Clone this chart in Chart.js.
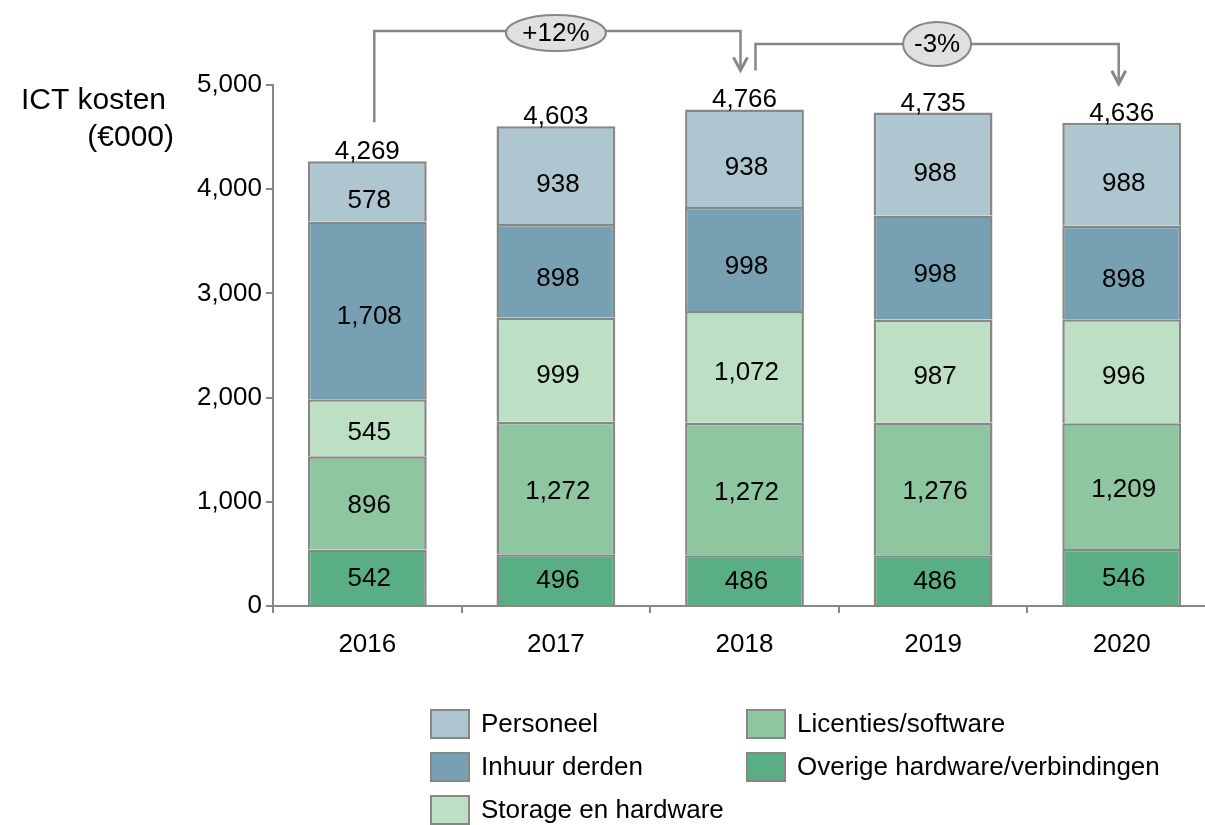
<!DOCTYPE html>
<html>
<head>
<meta charset="utf-8">
<script src="https://cdn.jsdelivr.net/npm/chart.js@4.4.1/dist/chart.umd.min.js"></script>
<style>
    html, body { margin: 0; padding: 0; background: #fff; overflow: hidden; }
    canvas { display: block; }
</style>
</head>
<body>
<canvas id="ictChart" width="1220" height="825"></canvas>
<script>
    // Chart data
    const years = ['2016', '2017', '2018', '2019', '2020'];
    const overigeHardware = [542, 496, 486, 486, 546];
    const licentiesSoftware = [896, 1272, 1272, 1276, 1209];
    const storageHardware = [545, 999, 1072, 987, 996];
    const inhuurDerden = [1708, 898, 998, 998, 898];
    const personeel = [578, 938, 938, 988, 988];
    const totals = [4269, 4603, 4766, 4735, 4636];
    const yTicks = [0, 1000, 2000, 3000, 4000, 5000];
    const changeLabels = ['+12%', '-3%'];
    const changeFrom = [0, 2];
    const changeTo = [2, 4];

    const FONT = '"Liberation Sans", Arial, sans-serif';
    const GREY = '#878787';

    // Bracket styling (pixels)
    const bracketLineY = [31, 44];
    const bracketStartDx = [7, 11];
    const bracketEndDx = [-4, -3];
    const ellipseSize = [[50, 18], [34, 22]];

    function fmt(v) {
        return v.toLocaleString('en-US');
    }

    // Labels inside segments and totals above bars
    const valueLabels = {
        id: 'valueLabels',
        afterDatasetsDraw(chart) {
            const ctx = chart.ctx;
            const bottom = chart.chartArea.bottom;
            ctx.save();
            ctx.font = '26px ' + FONT;
            ctx.fillStyle = '#000';
            ctx.textAlign = 'center';
            chart.data.datasets.forEach(function(ds, di) {
                const meta = chart.getDatasetMeta(di);
                meta.data.forEach(function(bar, i) {
                    const mid = (bar.y + bar.base) / 2;
                    ctx.textBaseline = 'middle';
                    ctx.fillText(fmt(ds.data[i]), bar.x + 2, mid + (bottom - mid) * 0.02 + 1);
                });
            });
            const top = chart.getDatasetMeta(chart.data.datasets.length - 1);
            top.data.forEach(function(bar, i) {
                ctx.textBaseline = 'alphabetic';
                ctx.fillText(fmt(totals[i]), bar.x, bar.y - 2);
            });
            ctx.restore();
        }
    };

    // Growth brackets at the top
    const brackets = {
        id: 'brackets',
        afterDraw(chart) {
            const ctx = chart.ctx;
            const xs = chart.scales.x;
            const top = chart.getDatasetMeta(chart.data.datasets.length - 1);
            ctx.save();
            changeLabels.forEach(function(label, k) {
                const a = top.data[changeFrom[k]];
                const b = top.data[changeTo[k]];
                const x1 = a.x + bracketStartDx[k];
                const x2 = b.x + bracketEndDx[k];
                const y1 = a.y - 39;
                const y2 = b.y - 39;
                const ly = bracketLineY[k];

                ctx.strokeStyle = GREY;
                ctx.lineWidth = 2.5;
                ctx.beginPath();
                ctx.moveTo(x1, y1);
                ctx.lineTo(x1, ly);
                ctx.lineTo(x2, ly);
                ctx.lineTo(x2, y2 - 2);
                ctx.stroke();

                // arrow head
                ctx.beginPath();
                ctx.moveTo(x2 - 7, y2 - 13);
                ctx.lineTo(x2, y2);
                ctx.lineTo(x2 + 7, y2 - 13);
                ctx.lineWidth = 3;
                ctx.stroke();

                // ellipse with change
                const cx = xs.getPixelForValue((changeFrom[k] + changeTo[k]) / 2) + (k === 0 ? 0 : 4);
                const cy = ly + (k === 0 ? 2 : 0);
                ctx.beginPath();
                ctx.ellipse(cx, cy, ellipseSize[k][0], ellipseSize[k][1], 0, 0, Math.PI * 2);
                ctx.fillStyle = '#e0e0e0';
                ctx.fill();
                ctx.lineWidth = 2;
                ctx.stroke();

                ctx.fillStyle = '#000';
                ctx.font = '26px ' + FONT;
                ctx.textAlign = 'center';
                ctx.textBaseline = 'middle';
                ctx.fillText(label, cx, cy + 1);
            });
            ctx.restore();
        }
    };

    // Axis title and two-column legend
    const extras = {
        id: 'extras',
        afterDraw(chart) {
            const ctx = chart.ctx;
            ctx.save();
            ctx.fillStyle = '#000';
            ctx.font = '30px ' + FONT;
            ctx.textAlign = 'right';
            ctx.textBaseline = 'middle';
            ctx.fillText('ICT kosten', 166, 101);
            ctx.fillText('(€000)', 174, 138);

            const order = [4, 3, 2, 1, 0];
            const colX = [431, 747];
            const rowY = [724, 767, 810];
            ctx.font = '26px ' + FONT;
            ctx.textAlign = 'left';
            order.forEach(function(di, n) {
                const ds = chart.data.datasets[di];
                const bx = colX[Math.floor(n / 3)];
                const by = rowY[n % 3];
                ctx.fillStyle = ds.backgroundColor;
                ctx.fillRect(bx, by - 14, 38, 28);
                ctx.strokeStyle = GREY;
                ctx.lineWidth = 2;
                ctx.strokeRect(bx, by - 14, 38, 28);
                ctx.fillStyle = '#000';
                ctx.fillText(ds.label, bx + 50, by + 1);
            });
            ctx.restore();
        }
    };

    function makeSet(label, data, color) {
        return {
            label: label,
            data: data,
            backgroundColor: color,
            borderColor: GREY,
            borderWidth: { top: 2.5, left: 2.5, right: 2.5, bottom: 0 },
            borderSkipped: false,
            barPercentage: 0.63,
            categoryPercentage: 1
        };
    }

    const ctx = document.getElementById('ictChart').getContext('2d');
    new Chart(ctx, {
        type: 'bar',
        data: {
            labels: years,
            datasets: [
                makeSet('Overige hardware/verbindingen', overigeHardware, '#5aae84'),
                makeSet('Licenties/software', licentiesSoftware, '#8ec79f'),
                makeSet('Storage en hardware', storageHardware, '#bde0c5'),
                makeSet('Inhuur derden', inhuurDerden, '#77a1b3'),
                makeSet('Personeel', personeel, '#adc6cf')
            ]
        },
        options: {
            responsive: false,
            animation: false,
            devicePixelRatio: 1,
            layout: { padding: { top: 85, right: 4, left: 0, bottom: 0 } },
            plugins: {
                legend: { display: false },
                tooltip: { enabled: false }
            },
            scales: {
                x: {
                    stacked: true,
                    afterFit: function(scale) { scale.height = 219; },
                    grid: {
                        offset: true,
                        drawOnChartArea: false,
                        tickLength: 7,
                        color: GREY,
                        lineWidth: 2
                    },
                    border: { color: GREY, width: 2 },
                    ticks: {
                        color: '#000',
                        padding: 16,
                        font: { family: FONT, size: 26 }
                    }
                },
                y: {
                    stacked: true,
                    min: 0,
                    max: 5000,
                    afterFit: function(scale) { scale.width = 273; },
                    afterBuildTicks: function(scale) {
                        scale.ticks = yTicks.map(function(v) { return { value: v }; });
                    },
                    grid: {
                        drawOnChartArea: false,
                        tickLength: 7,
                        color: GREY,
                        lineWidth: 2
                    },
                    border: { color: GREY, width: 2 },
                    ticks: {
                        color: '#000',
                        padding: 4,
                        font: { family: FONT, size: 26 },
                        callback: function(v) { return fmt(v); }
                    }
                }
            }
        },
        plugins: [valueLabels, brackets, extras]
    });
</script>
</body>
</html>
